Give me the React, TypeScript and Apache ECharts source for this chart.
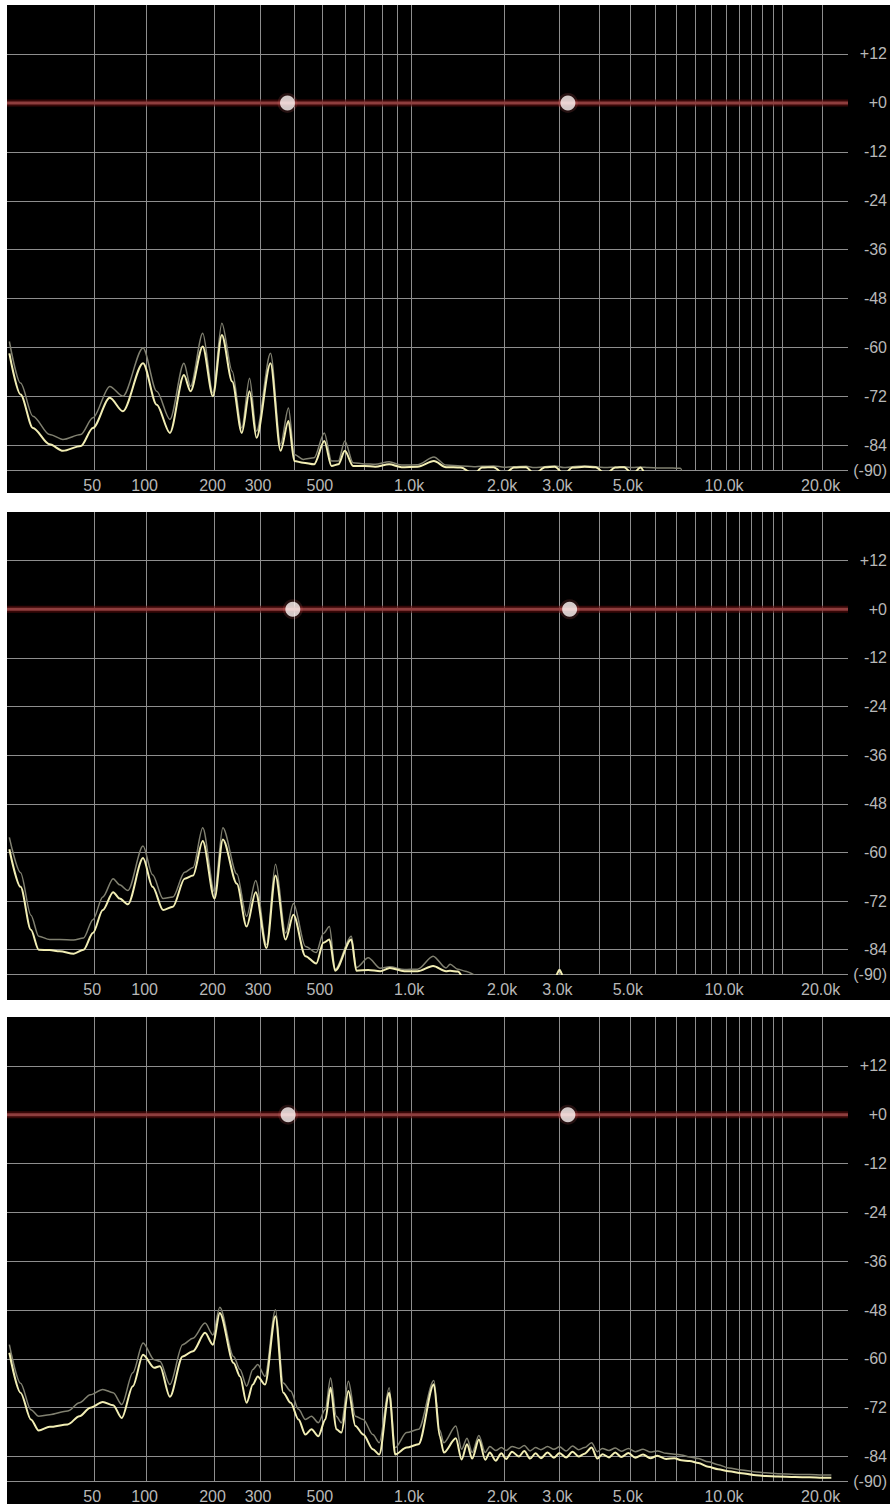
import React, { useEffect, useRef } from "react";
import * as echarts from "echarts";

// ---------- axis definitions ----------
const GRID_FREQS = [50, 100, 200, 300, 400, 500, 600, 700, 800, 900, 1000, 2000, 3000, 4000, 5000, 6000, 7000, 8000, 9000, 10000, 11000, 12000, 13000, 14000, 15000, 20000];
const LABEL_FREQS = [50, 100, 200, 300, 500, 1000, 2000, 3000, 5000, 10000, 20000];
const LABEL_TEXTS = ["50", "100", "200", "300", "500", "1.0k", "2.0k", "3.0k", "5.0k", "10.0k", "20.0k"];
const DB_TICKS = [12, 0, -12, -24, -36, -48, -60, -72, -84, -90];
const F_MIN = -1;
const F_MAX = 24000;

// ---------- panel 1 ----------
const P1_FREQ = [0, 5, 11, 20, 28, 40, 49, 63, 75, 96, 112, 129, 149, 159, 179, 197, 214, 235, 256, 274, 291, 328, 357, 381, 400, 430, 470, 510, 540, 570, 600, 640, 700, 760, 846, 930, 1050, 1187, 1300, 1450, 1600, 1700, 1850, 2000, 2150, 2350, 2500, 2700, 2900, 3100, 3300, 3600, 3900, 4200, 4500, 4800, 5100, 5400, 5700, 6200, 6800, 7200, 7400];
const P1_MAIN = [-61.4, -71.5, -79.7, -83.7, -85.3, -84.1, -79.7, -72.3, -75.6, -63.8, -74.0, -80.9, -66.7, -70.7, -59.7, -71.9, -56.9, -68.3, -80.9, -70.7, -82.1, -63.8, -85.3, -78.0, -87.8, -88.2, -88.6, -82.9, -89.0, -88.6, -85.3, -89.0, -89.0, -89.2, -88.6, -89.3, -89.2, -87.8, -89.3, -89.4, -91, -89.4, -89.3, -91, -89.4, -89.3, -91, -89.3, -89.2, -91, -89.4, -89.2, -89.3, -91, -89.4, -89.3, -91, -89.4, -92, -93, null, null, null];
const P1_PEAK = [-58.5, -68.7, -76.8, -81.3, -82.5, -81.3, -77.2, -69.5, -71.9, -60.1, -70.7, -77.6, -63.8, -69.5, -56.5, -71.1, -54.0, -65.8, -79.7, -67.5, -80.5, -61.4, -83.7, -74.8, -86.2, -87.4, -87.0, -80.9, -87.8, -87.8, -82.9, -88.2, -88.5, -88.6, -88.0, -88.8, -88.7, -86.8, -88.8, -89.0, -89.2, -89.1, -89.0, -89.3, -89.2, -89.1, -89.4, -89.2, -89.0, -89.4, -89.2, -89.0, -89.2, -89.4, -89.3, -89.2, -89.4, -89.3, -89.4, -89.5, -89.5, -89.6, -92];
const P1_HANDLES = [378, 3190];

// ---------- panel 2 ----------
const P2_FREQ = [0, 5, 10, 14, 20, 26, 35, 42, 49, 57, 66, 72, 80, 96, 107, 120, 133, 150, 163, 179, 200, 216, 245, 267, 289, 317, 342, 372, 397, 438, 478, 506, 531, 556, 631, 657, 720, 790, 850, 950, 1050, 1180, 1300, 1340, 1420, 1500, 1700, 2600, 2900, 3000, 3100, 3300];
const P2_MAIN = [-59.2, -68.5, -79.1, -84.0, -84.1, -84.4, -85.0, -84.0, -79.9, -74.2, -69.8, -71.4, -72.8, -61.4, -68.5, -74.2, -73.4, -66.5, -65.7, -57.2, -71.4, -56.8, -67.7, -78.3, -69.8, -83.6, -65.7, -81.5, -75.4, -85.6, -87.4, -82.3, -81.5, -89.2, -81.5, -89.2, -89.0, -89.3, -88.5, -89.3, -89.3, -88.0, -89.3, -89.2, -89.4, -91.5, -93, -93, -91, -89.0, -91, -93];
const P2_PEAK = [-56.3, -65.0, -75.5, -80.7, -81.5, -81.5, -81.6, -81.1, -76.6, -71.0, -66.5, -68.0, -69.4, -58.4, -65.5, -71.4, -71.0, -64.9, -63.7, -53.9, -69.8, -53.9, -65.3, -75.8, -66.9, -82.8, -62.9, -79.9, -72.6, -83.2, -84.7, -80.0, -78.3, -88.8, -80.7, -88.4, -86.0, -88.6, -88.2, -88.9, -88.8, -85.6, -88.5, -87.6, -88.8, -89.3, -91, -93, -91, -88.8, -91, -93];
const P2_HANDLES = [395, 3230];

// ---------- panel 3 ----------
const P3_FREQ = [0, 5, 10, 14, 20, 31, 39, 47, 57, 66, 74, 85, 96, 109, 116, 129, 147, 163, 183, 197, 210, 238, 252, 267, 282, 294, 313, 342, 365, 388, 414, 438, 460, 486, 514, 536, 561, 584, 617, 652, 693, 746, 784, 846, 886, 966, 1057, 1187, 1240, 1279, 1399, 1460, 1520, 1580, 1660, 1740, 1800, 1880, 1960, 2030, 2120, 2230, 2320, 2420, 2520, 2620, 2750, 2880, 3000, 3150, 3300, 3450, 3600, 3790, 3950, 4100, 4300, 4500, 4700, 4950, 5200, 5500, 5800, 6100, 6500, 6900, 7250, 7700, 8200, 8800, 9450, 10200, 11200, 12200, 13300, 14500, 16400, 18200, 20000, 21300];
const P3_MAIN = [-58.5, -68.3, -74.9, -77.6, -76.7, -76.1, -74.1, -72.0, -70.6, -71.4, -74.5, -66.7, -59.0, -62.2, -61.8, -69.3, -59.4, -58.1, -53.6, -56.5, -48.7, -61.0, -64.3, -70.8, -66.3, -64.3, -66.3, -49.5, -68.3, -70.8, -74.9, -78.6, -77.3, -79.0, -74.9, -67.1, -77.3, -78.1, -67.9, -76.5, -78.6, -82.2, -83.5, -68.3, -83.5, -81.8, -81.0, -66.2, -79.0, -83.0, -79.5, -84.7, -81.0, -84.5, -79.8, -84.8, -83.0, -85.0, -83.2, -84.6, -82.8, -84.0, -82.6, -84.5, -83.2, -84.4, -83.0, -84.3, -83.1, -84.2, -82.8, -84.0, -83.3, -81.8, -84.5, -83.4, -84.2, -83.0, -84.1, -83.1, -84.3, -83.5, -84.4, -83.8, -84.6, -84.4, -84.9, -85.1, -85.6, -86.5, -87.1, -87.6, -88.1, -88.5, -88.8, -88.9, -89.0, -89.1, -89.2, -89.2];
const P3_PEAK = [-56.5, -66.0, -72.5, -74.1, -73.7, -72.8, -70.8, -68.8, -67.5, -68.3, -71.2, -63.4, -56.1, -60.2, -60.6, -66.3, -56.5, -54.9, -51.2, -54.1, -47.3, -59.4, -62.6, -66.7, -62.6, -61.4, -64.3, -47.9, -65.9, -67.9, -72.4, -74.9, -74.1, -75.7, -72.4, -64.7, -74.1, -75.7, -65.5, -74.1, -74.9, -78.6, -80.6, -67.1, -81.8, -78.1, -77.3, -65.3, -77.5, -80.6, -76.5, -82.2, -79.5, -83.0, -78.8, -83.0, -81.5, -82.5, -81.8, -82.5, -81.5, -82.0, -81.3, -82.6, -81.8, -82.3, -81.5, -82.2, -81.6, -82.6, -81.4, -82.3, -81.8, -80.6, -82.8, -82.0, -82.5, -81.9, -82.7, -82.0, -82.8, -82.2, -82.9, -82.6, -83.2, -83.4, -83.6, -84.1, -84.5, -85.3, -86.0, -86.8, -87.3, -87.7, -88.0, -88.2, -88.4, -88.4, -88.5, -88.5];
const P3_HANDLES = [380, 3190];

// frequency -> axis coordinate of this analyser's warped-log scale
const T = (f: number) => Math.log10(f + 60);

const FONT = "'Liberation Sans', Arial, sans-serif";
const LABEL_COLOR = "#b8b8b8";
const GRID_COLOR = "#8e8e8e";

function xLabel(v: number): string {
  let best = 0;
  for (let i = 1; i < LABEL_FREQS.length; i++) {
    if (Math.abs(T(LABEL_FREQS[i]) - v) < Math.abs(T(LABEL_FREQS[best]) - v)) best = i;
  }
  return LABEL_TEXTS[best];
}

function yLabel(v: number): string {
  const r = Math.round(v);
  if (r === -90) return "(-90)";
  if (r >= 0) return "+" + r;
  return String(r);
}

function pairs(freqs: number[], vals: (number | null)[]) {
  return freqs.map((f, i) => [T(f), vals[i]]);
}

function buildOption(freqs: number[], main: (number | null)[], peak: (number | null)[], handles: number[], plotHeight: number) {
  const zeroLine = [[T(F_MIN), 0], [T(F_MAX), 0]];
  return {
    animation: false,
    backgroundColor: "#000",
    grid: { left: 0, top: 0, width: 843, height: plotHeight, containLabel: false },
    xAxis: {
      type: "value",
      min: T(F_MIN),
      max: T(F_MAX),
      axisLine: { show: false },
      axisTick: { show: false, customValues: GRID_FREQS.map(T) },
      splitLine: { show: true, lineStyle: { color: GRID_COLOR, width: 1 } },
      axisLabel: {
        customValues: LABEL_FREQS.map(T),
        formatter: (v: number) => xLabel(v),
        color: LABEL_COLOR,
        fontSize: 16,
        fontFamily: FONT,
        margin: 7,
        padding: [0, 4, 0, 0],
      },
    },
    yAxis: {
      type: "value",
      position: "right",
      min: -90,
      max: 24,
      axisLine: { show: false },
      axisTick: { show: false, customValues: DB_TICKS },
      splitLine: { show: true, lineStyle: { color: GRID_COLOR, width: 1 } },
      axisLabel: {
        customValues: DB_TICKS,
        formatter: (v: number) => yLabel(v),
        color: LABEL_COLOR,
        fontSize: 16,
        fontFamily: FONT,
        align: "right",
        margin: 39,
      },
    },
    series: [
      {
        type: "line",
        data: zeroLine,
        symbol: "none",
        silent: true,
        lineStyle: { color: "rgba(90,12,12,0.6)", width: 7 },
        z: 3,
      },
      {
        type: "line",
        data: zeroLine,
        symbol: "none",
        silent: true,
        lineStyle: { color: "#8e3e3e", width: 3 },
        z: 3,
      },
      {
        type: "line",
        data: pairs(freqs, peak),
        symbol: "none",
        smooth: 0.3,
        smoothMonotone: "x",
        lineStyle: { color: "#808070", width: 1.5 },
        z: 4,
      },
      {
        type: "line",
        data: pairs(freqs, main),
        symbol: "none",
        smooth: 0.3,
        smoothMonotone: "x",
        lineStyle: { color: "#f2eeb4", width: 2 },
        z: 5,
      },
      {
        type: "scatter",
        data: handles.map((f) => [T(f), 0]),
        symbol: "circle",
        symbolSize: 20,
        itemStyle: { color: "rgba(255,120,120,0.18)" },
        z: 6,
      },
      {
        type: "scatter",
        data: handles.map((f) => [T(f), 0]),
        symbol: "circle",
        symbolSize: 15,
        itemStyle: { color: "#fff8f6" },
        z: 7,
      },
    ],
  };
}

type PanelProps = {
  top: number;
  height: number;
  plotHeight: number;
  freqs: number[];
  main: (number | null)[];
  peak: (number | null)[];
  handles: number[];
};

function Panel({ top, height, plotHeight, freqs, main, peak, handles }: PanelProps) {
  const ref = useRef<HTMLDivElement>(null);
  useEffect(() => {
    if (!ref.current) return;
    const chart = echarts.init(ref.current, null, { renderer: "svg" });
    chart.setOption(buildOption(freqs, main, peak, handles, plotHeight) as any);
    return () => chart.dispose();
  }, []);
  return (
    <div
      ref={ref}
      style={{ position: "absolute", left: 7, top, width: 883, height, background: "#000", overflow: "hidden" }}
    />
  );
}

export default function App() {
  return (
    <div>
      <Panel top={5} height={488} plotHeight={468} freqs={P1_FREQ} main={P1_MAIN} peak={P1_PEAK} handles={P1_HANDLES} />
      <Panel top={512} height={488} plotHeight={462} freqs={P2_FREQ} main={P2_MAIN} peak={P2_PEAK} handles={P2_HANDLES} />
      <Panel top={1017} height={487} plotHeight={465} freqs={P3_FREQ} main={P3_MAIN} peak={P3_PEAK} handles={P3_HANDLES} />
    </div>
  );
}
